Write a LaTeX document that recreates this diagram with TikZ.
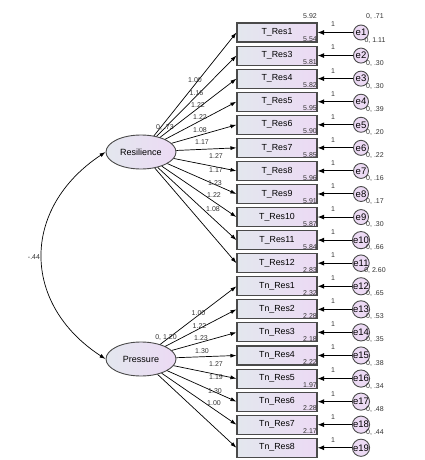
\documentclass[tikz,border=0pt]{standalone}
\usepackage{fontspec}
\setmainfont{Liberation Sans}
\usetikzlibrary{arrows.meta,shapes.geometric}
\definecolor{lblue}{HTML}{E3E7EE}
\definecolor{lviolet}{HTML}{ECDAF4}
\definecolor{edge}{HTML}{4A4A4A}
\begin{document}
\begin{tikzpicture}[x=1pt,y=-1pt,
 obs/.style={draw=edge, line width=1.1pt, left color=lblue, right color=lviolet, minimum width=80pt, minimum height=19pt, inner sep=0pt, font=\fontsize{8.8}{10}\selectfont},
 lat/.style={ellipse, draw=edge, line width=0.9pt, left color=lblue, right color=lviolet, minimum width=70pt, minimum height=34pt, inner sep=0pt, font=\fontsize{9}{10}\selectfont},
 err/.style={circle, draw=edge, line width=0.9pt, fill=lviolet, minimum size=15pt, inner sep=0pt, font=\fontsize{9.5}{10}\selectfont},
 num/.style={font=\fontsize{7}{8}\selectfont, text=black!80, inner sep=0pt},
 load/.style={-{Latex[length=6pt,width=4pt]}, line width=0.7pt},
 erra/.style={-{Latex[length=6.5pt,width=5pt]}, line width=1pt},
 cov/.style={{Latex[length=6pt,width=4pt]}-{Latex[length=6pt,width=4pt]}, line width=0.7pt},
]
\useasboundingbox (0,0) rectangle (424,460);

% observed variables and errors
\foreach \lab [count=\j from 1] in {T\_Res1,T\_Res3,T\_Res4,T\_Res5,T\_Res6,T\_Res7,T\_Res8,T\_Res9,T\_Res10,T\_Res11,T\_Res12,Tn\_Res1,Tn\_Res2,Tn\_Res3,Tn\_Res4,Tn\_Res5,Tn\_Res6,Tn\_Res7,Tn\_Res8}{
  \pgfmathsetmacro{\cy}{32.5+23.07*(\j-1)}
  \node[obs] (b\j) at (277,\cy) {\lab};
  \node[err] (e\j) at (361,\cy) {e\j};
  \draw[erra] (e\j) -- (b\j.east);
  \node[num] (one\j) at (333,\cy-8) {1};
}

% intercepts
\foreach \v [count=\j from 1] in {5.92,5.54,5.81,5.82,5.95,5.90,5.85,5.96,5.91,5.87,5.84,2.83,2.32,2.28,2.18,2.22,1.97,2.28,2.17}{
  \pgfmathsetmacro{\cy}{32.5+23.07*(\j-1)-16.3}
  \node[num, anchor=east] (int\j) at (317,\cy) {\v};
}

% error variances
\foreach \v [count=\j from 1] in {.71,1.11,.30,.30,.39,.20,.22,.16,.17,.30,.66,2.60,.65,.53,.35,.38,.34,.48,.44}{
  \pgfmathsetmacro{\cy}{32.5+23.07*(\j-1)-15.5}
  \node[num] (var\j) at (375,\cy) {0, \v};
}

% latent variables
\node[lat] (res) at (141,152) {Resilience};
\node[lat] (pre) at (141,359) {Pressure};
\node[num] (vres) at (165,128) {0, .73};
\node[num] (vpre) at (166,337) {0, 1.20};

\foreach \j in {1,...,11}{\draw[load] (res) -- (b\j.west);}
\foreach \j in {12,...,19}{\draw[load] (pre) -- (b\j.west);}

% loadings
\foreach \v/\x/\y [count=\k] in {1.00/195/80,1.16/196.5/93,1.22/198/105,1.22/200/117,1.08/200/130,1.17/202/142,1.27/216/156,1.17/216/170,1.23/215/183,1.22/214/195,1.08/213/209,
 1.00/198.5/313,1.22/199.5/326,1.23/201/338,1.30/202/351,1.27/216/364,1.19/216/377,1.30/215/391,1.00/214/403}{
  \node[num] (ld\k) at (\x,\y) {\v};
}

% covariance
\draw[cov] (res.west) .. controls (21,208) and (21,304) .. (pre.west);
\node[num] (covl) at (34,257) {-.44};
\end{tikzpicture}
\end{document}
